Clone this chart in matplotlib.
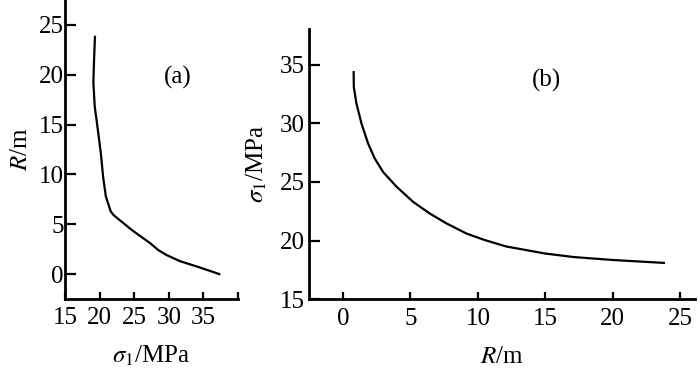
import matplotlib
matplotlib.use("Agg")
import matplotlib.pyplot as plt

# Panel (a): R vs sigma1
a_sigma = [19.33, 19.2, 19.1, 19.3, 19.8, 20.2, 20.5, 20.9, 21.6, 22.05, 24.7, 27.3, 28.5, 29.7, 31.6, 34.5, 37.3]
a_R = [23.8, 21.5, 19.2, 16.8, 14.2, 12.0, 9.8, 7.8, 6.3, 5.9, 4.4, 3.1, 2.4, 1.9, 1.3, 0.66, 0.0]

# Panel (b): sigma1 vs R
b_R = [0.79, 0.80, 0.99, 1.37, 1.86, 2.35, 2.97, 3.96, 5.2, 6.44, 7.68, 9.16, 10.5, 12.1, 14.98, 17.1, 19.98, 23.8]
b_sigma = [34.35, 33.1, 31.7, 29.97, 28.27, 27.0, 25.85, 24.6, 23.3, 22.3, 21.46, 20.6, 20.05, 19.5, 18.9, 18.6, 18.35, 18.1]

a_xticks = [15, 20, 25, 30, 35, 40]
a_xticklabels = ["15", "20", "25", "30", "35", ""]
a_yticks = [0, 5, 10, 15, 20, 25]
b_xticks = [0, 5, 10, 15, 20, 25]
b_yticks = [15, 20, 25, 30, 35]

plt.rcParams['font.family'] = ['Liberation Serif', 'DejaVu Serif']
plt.rcParams['mathtext.fontset'] = 'stix'
FS = 18

fig = plt.figure(figsize=(7.0, 3.78), dpi=100)
ax1 = fig.add_axes([65/700, 1 - 299/378, (238-65)/700, 299/378])
ax2 = fig.add_axes([309.3/700, 1 - 299.3/378, (695-309.3)/700, (299.3-29.3)/378])

for ax in (ax1, ax2):
    for s in ('top', 'right'):
        ax.spines[s].set_visible(False)
    for s in ('left', 'bottom'):
        ax.spines[s].set_linewidth(2.0)
    ax.tick_params(axis='x', direction='in', length=5, width=1.6, labelsize=FS, pad=6)

ax1.tick_params(axis='y', direction='in', length=8, width=1.6, labelsize=FS, pad=1)
ax2.tick_params(axis='y', direction='in', length=8, width=1.6, labelsize=FS, pad=3)

ax1.plot(a_sigma, a_R, color='black', lw=1.6)
ax1.set_xlim(15, 40)
ax1.set_ylim(-2.5, 27.5)
ax1.set_xticks(a_xticks)
ax1.set_xticklabels(a_xticklabels)
ax1.set_yticks(a_yticks)
ax1.set_xlabel(r'$\sigma_1$/MPa', fontsize=FS, labelpad=10)
ax1.set_ylabel(r'$R$/m', fontsize=FS, labelpad=5)
ax1.text(31.26, 19.7, '(a)', fontsize=FS, ha='center', va='center')

ax2.plot(b_R, b_sigma, color='black', lw=1.6)
ax2.set_xlim(-2.5, 26.1)
ax2.set_ylim(15, 38)
ax2.set_xticks(b_xticks)
ax2.set_yticks(b_yticks)
ax2.set_xlabel(r'$R$/m', fontsize=FS, labelpad=12)
ax2.set_ylabel(r'$\sigma_1$/MPa', fontsize=FS, labelpad=8)
ax2.text(15.1, 33.6, '(b)', fontsize=FS, ha='center', va='center')

fig.savefig('out.png', dpi=100)
